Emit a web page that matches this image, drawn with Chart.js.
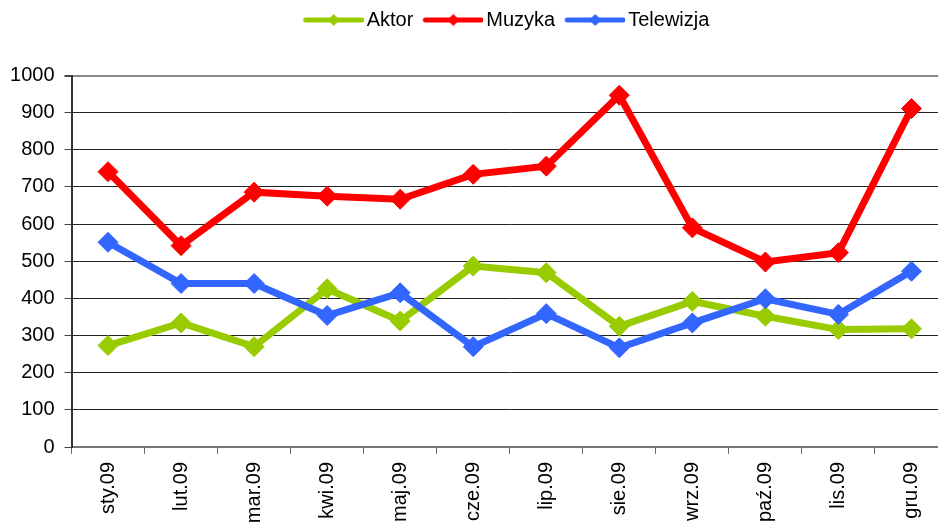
<!DOCTYPE html>
<html>
<head>
<meta charset="utf-8">
<script src="https://cdn.jsdelivr.net/npm/chart.js@4/dist/chart.umd.min.js"></script>
<style>
html,body{margin:0;padding:0;background:#fff;overflow:hidden;width:938px;height:526px;}
#wrap{position:absolute;left:0;top:0;width:959px;height:526px;}
</style>
</head>
<body>
<div id="wrap"><canvas id="c" width="959" height="526"></canvas></div>
<script>
const categories = ['sty.09','lut.09','mar.09','kwi.09','maj.09','cze.09','lip.09','sie.09','wrz.09','paź.09','lis.09','gru.09'];
const aktor = [273, 334, 270, 426, 339, 487, 469, 325, 392, 352, 316, 318];
const muzyka = [741, 542, 686, 675, 667, 734, 756, 947, 590, 498, 523, 911];
const telewizja = [551, 440, 440, 354, 415, 270, 359, 267, 334, 399, 357, 473];
const seriesNames = ['Aktor', 'Muzyka', 'Telewizja'];
const colors = ['#99CC00', '#FF0000', '#3366FF'];

const FONT = "'Liberation Sans', Arial, sans-serif";

function legendImage(color) {
  const cv = document.createElement('canvas');
  cv.width = 67; cv.height = 16;
  const g = cv.getContext('2d');
  g.strokeStyle = color; g.lineWidth = 5; g.lineCap = 'round';
  g.beginPath(); g.moveTo(9, 8); g.lineTo(65, 8); g.stroke();
  g.fillStyle = color;
  g.beginPath(); g.moveTo(37, 2); g.lineTo(43, 8); g.lineTo(37, 14); g.lineTo(31, 8); g.closePath(); g.fill();
  return cv;
}
const legendImgs = colors.map(legendImage);

function ds(label, data, color, order) {
  return {
    label, data, order,
    borderColor: color, backgroundColor: color,
    borderWidth: 7, tension: 0,
    pointStyle: 'rectRot', pointRadius: 10, pointHoverRadius: 10,
    pointBackgroundColor: color, pointBorderColor: color, pointBorderWidth: 1,
    fill: false
  };
}

const legendTweak = {
  id: 'legendTweak',
  beforeLayout(chart) {
    const lg = chart.legend;
    if (lg && !lg._tweaked) {
      const f = lg.fit;
      lg.fit = function () { f.call(this); this.height += 35.5; };
      lg._tweaked = true;
    }
  },
  afterLayout(chart) {
    if (chart.legend) { chart.legend.left += 27.5; chart.legend.right += 27.5; }
  }
};

new Chart(document.getElementById('c'), {
  type: 'line',
  data: {
    labels: categories,
    datasets: [
      ds(seriesNames[0], aktor, colors[0], 3),
      ds(seriesNames[1], muzyka, colors[1], 2),
      ds(seriesNames[2], telewizja, colors[2], 1)
    ]
  },
  options: {
    responsive: false,
    animation: false,
    layout: { padding: { top: 0, right: 1, left: 0, bottom: 0 } },
    plugins: {
      tooltip: { enabled: false },
      legend: {
        display: true,
        position: 'top',
        labels: {
          usePointStyle: true,
          pointStyleWidth: 53,
          padding: 10,
          color: '#000',
          font: { family: FONT, size: 20 },
          sort: (a, b) => a.datasetIndex - b.datasetIndex,
          generateLabels(chart) {
            return chart.data.datasets.map((d, i) => ({
              text: d.label,
              fillStyle: d.borderColor,
              strokeStyle: d.borderColor,
              lineWidth: 0,
              pointStyle: legendImgs[i],
              hidden: false,
              datasetIndex: i,
              fontColor: '#000'
            }));
          }
        }
      }
    },
    scales: {
      x: {
        type: 'category',
        offset: true,
        grid: { offset: true, drawOnChartArea: false, drawTicks: true, tickLength: 7, color: '#666', lineWidth: 1 },
        border: { display: true, color: '#777', width: 2 },
        ticks: { color: '#000', font: { family: FONT, size: 20 }, minRotation: 90, maxRotation: 90, padding: 8, autoSkip: false },
        afterFit(scale) { scale.height = 79; }
      },
      y: {
        min: 0, max: 1000,
        ticks: { stepSize: 100, color: '#000', font: { family: FONT, size: 20 }, padding: 10,
                 callback: (v) => String(v) },
        grid: {
          color: (c) => (c.tick && c.tick.value === 1000) ? '#888' : '#222',
          lineWidth: (c) => (c.tick && c.tick.value === 1000) ? 2 : 1,
          tickColor: '#444', tickLength: 7, drawTicks: true
        },
        border: { display: true, color: '#333', width: 2 },
        afterFit(scale) { scale.width = 71.5; }
      }
    }
  },
  plugins: [legendTweak]
});
</script>
</body>
</html>
